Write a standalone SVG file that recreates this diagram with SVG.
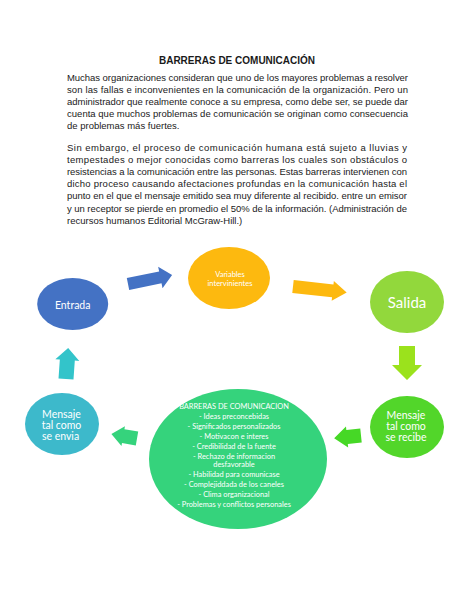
<svg xmlns="http://www.w3.org/2000/svg" width="474" height="613" viewBox="0 0 474 613">
<style>
.t{font-family:"Liberation Sans",Arial,sans-serif;font-size:9.5px;fill:#1a1a1a}
.h{font-family:"Liberation Sans",Arial,sans-serif;font-size:10px;font-weight:bold;fill:#1a1a1a}
.n{font-family:Lato,"Open Sans",sans-serif;fill:#ffffff;text-anchor:middle}
</style>
<defs>
<path id="ab" d="M0,-6 L33,-6 L33,-11 L45,0 L33,11 L33,6 L0,6Z"/>
</defs>
<rect width="474" height="613" fill="#ffffff"/>
<g id="texto">
<text class="h" x="237" y="63.5" text-anchor="middle">BARRERAS DE COMUNICACIÓN</text>
<text class="t" x="67" y="80.5" textLength="341" lengthAdjust="spacing">Muchas organizaciones consideran que uno de los mayores problemas a resolver</text>
<text class="t" x="67" y="92.7" textLength="341" lengthAdjust="spacing">son las fallas e inconvenientes en la comunicación de la organización. Pero un</text>
<text class="t" x="67" y="104.9" textLength="341" lengthAdjust="spacing">administrador que realmente conoce a su empresa, como debe ser, se puede dar</text>
<text class="t" x="67" y="117.1" textLength="341" lengthAdjust="spacing">cuenta que muchos problemas de comunicación se originan como consecuencia</text>
<text class="t" x="67" y="129.3">de problemas más fuertes.</text>
<text class="t" x="67" y="150.5" textLength="340" lengthAdjust="spacing">Sin embargo, el proceso de comunicación humana está sujeto a lluvias y</text>
<text class="t" x="67" y="162.7" textLength="340" lengthAdjust="spacing">tempestades o mejor conocidas como barreras los cuales son obstáculos o</text>
<text class="t" x="67" y="174.9" textLength="340" lengthAdjust="spacing">resistencias a la comunicación entre las personas. Estas barreras intervienen con</text>
<text class="t" x="67" y="187.1" textLength="340" lengthAdjust="spacing">dicho proceso causando afectaciones profundas en la comunicación hasta el</text>
<text class="t" x="67" y="199.3" textLength="340" lengthAdjust="spacing">punto en el que el mensaje emitido sea muy diferente al recibido. entre un emisor</text>
<text class="t" x="67" y="211.5" textLength="340" lengthAdjust="spacing">y un receptor se pierde en promedio el 50% de la información. (Administración de</text>
<text class="t" x="67" y="223.7">recursos humanos Editorial McGraw-Hill.)</text>
</g>
<g id="conectores">
<use href="#ab" fill="#4472C4" transform="translate(128,284) rotate(-11.5)"/>
<path d="M0,-6.5 L40,-6.5 L40,-10 L54,0 L40,10 L40,6.5 L0,6.5Z" fill="#FDB90F" transform="translate(293,286.5) rotate(6.3)"/>
<path d="M0,-8 L19,-8 L19,-15 L34,0 L19,15 L19,8 L0,8Z" fill="#9BE21C" transform="translate(407,346) rotate(90)"/>
<path d="M0,-7 L14,-7 L14,-10.5 L27,0 L14,10.5 L14,7 L0,7Z" fill="#46D826" transform="translate(361,435.5) rotate(174)"/>
<path d="M0,-7 L14,-7 L14,-10 L26,0 L14,10 L14,7 L0,7Z" fill="#35D37C" transform="translate(137,438.5) rotate(190)"/>
<path d="M0,-7.5 L19,-7.5 L19,-12 L31,0 L19,12 L19,7.5 L0,7.5Z" fill="#33C4CA" transform="translate(66,379) rotate(-86)"/>
</g>
<g id="entrada">
<ellipse cx="72.7" cy="304" rx="35.5" ry="26" fill="#4472C4"/>
<text class="n" x="72.7" y="308.5" font-size="10.5">Entrada</text>
</g>
<g id="variables">
<ellipse cx="229" cy="278" rx="41" ry="31" fill="#FDB90F"/>
<text class="n" x="230" y="277" font-size="7.5">Variables</text>
<text class="n" x="230" y="285.5" font-size="7.5">intervinientes</text>
</g>
<g id="salida">
<ellipse cx="407" cy="302" rx="37" ry="31" fill="#92D83C"/>
<text class="n" x="407" y="307.5" font-size="15">Salida</text>
</g>
<g id="recibe">
<ellipse cx="407" cy="427" rx="37" ry="31" fill="#52D62A"/>
<text class="n" x="406" y="418.5" font-size="10.5">Mensaje</text>
<text class="n" x="406" y="430" font-size="10.5">tal como</text>
<text class="n" x="406" y="441" font-size="10.5">se recibe</text>
</g>
<g id="barreras">
<ellipse cx="238" cy="459" rx="89" ry="70" fill="#35D37C"/>
<g class="n" font-size="7.4">
<text x="234" y="409">BARRERAS DE COMUNICACION</text>
<text x="234" y="419">- Ideas preconcebidas</text>
<text x="234" y="429">- Significados personalizados</text>
<text x="234" y="439">- Motivacon e interes</text>
<text x="234" y="449">- Credibilidad de la fuente</text>
<text x="234" y="458.5">- Rechazo de informacion</text>
<text x="234" y="466.5">desfavorable</text>
<text x="234" y="476.5">- Habilidad para comunicase</text>
<text x="234" y="486.5">- Complejiddada de los caneles</text>
<text x="234" y="496.5">- Clima organizacional</text>
<text x="234" y="506.5">- Problemas y conflictos personales</text>
</g>
</g>
<g id="envia">
<ellipse cx="62" cy="424" rx="37" ry="31" fill="#3DB9CB"/>
<text class="n" x="61.5" y="418" font-size="10.5">Mensaje</text>
<text class="n" x="61.5" y="429" font-size="10.5">tal como</text>
<text class="n" x="60.5" y="439.5" font-size="10.5">se envia</text>
</g>
</svg>
